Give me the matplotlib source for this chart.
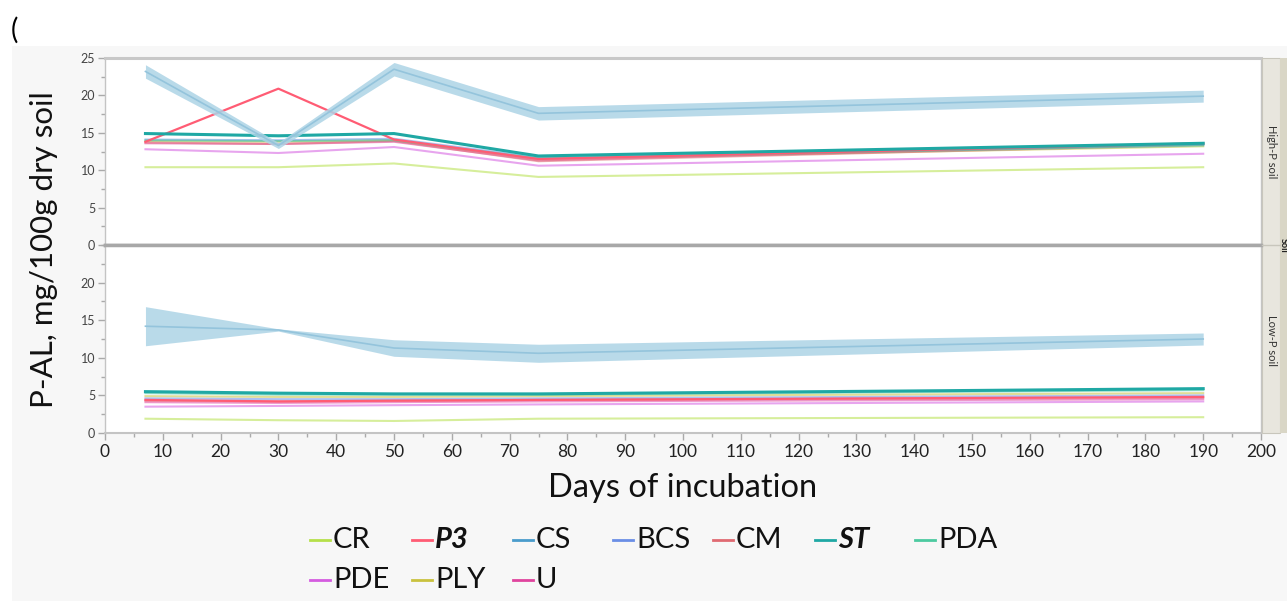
import matplotlib
matplotlib.use("Agg")
import matplotlib.pyplot as plt
from matplotlib.patches import Rectangle
from matplotlib.lines import Line2D
from matplotlib.ticker import MultipleLocator

plt.rcParams['font.family'] = ['Lato', 'DejaVu Sans']

days = [7, 30, 50, 75, 190]
series = ["CR", "P3", "CS", "BCS", "CM", "ST", "PDA", "PDE", "PLY", "U"]
colors = {"CR": "#b5e04a", "P3": "#ff5c74", "CS": "#4a9ccc", "BCS": "#6a8ee6",
          "CM": "#e06a72", "ST": "#1fa8a4", "PDA": "#4ccaa0", "PDE": "#d55ce0",
          "PLY": "#c9c23e", "U": "#e0449e"}

high = {
    "CR":  [10.4, 10.4, 10.9, 9.1, 10.4],
    "P3":  [13.8, 20.9, 14.1, 11.5, 13.6],
    "CS":  [23.2, 13.3, 23.5, 17.6, 19.9],
    "BCS": [14.1, 14.0, 14.2, 11.7, 13.4],
    "CM":  [13.7, 13.5, 13.9, 11.2, 13.4],
    "ST":  [14.9, 14.6, 14.9, 11.9, 13.6],
    "PDA": [14.0, 13.9, 14.0, 11.6, 13.3],
    "PDE": [12.8, 12.3, 13.1, 10.6, 12.2],
    "PLY": [13.9, 13.8, 14.0, 11.5, 13.2],
    "U":   [13.6, 13.5, 13.8, 11.3, 13.5],
}
high_cs_err = [0.9, 0.4, 0.9, 0.9, 0.8]

low = {
    "CR":  [1.9, 1.7, 1.6, 1.9, 2.1],
    "P3":  [4.4, 4.2, 4.3, 4.4, 4.8],
    "CS":  [14.2, 13.7, 11.3, 10.6, 12.5],
    "BCS": [4.6, 4.5, 4.5, 4.6, 5.0],
    "CM":  [4.3, 4.2, 4.3, 4.4, 4.7],
    "ST":  [5.5, 5.3, 5.2, 5.2, 5.9],
    "PDA": [5.3, 5.1, 5.1, 5.1, 5.7],
    "PDE": [3.5, 3.6, 3.7, 3.8, 4.2],
    "PLY": [4.9, 4.8, 4.8, 4.9, 5.3],
    "U":   [4.1, 4.0, 4.1, 4.2, 4.5],
}
low_cs_err = [2.6, 0.15, 1.1, 1.2, 0.8]

panel_labels = ["High-P soil", "Low-P soil"]
x_ticks = list(range(0, 201, 10))

W, H = 1287, 601
fig = plt.figure(figsize=(W / 100, H / 100), dpi=100)
fig.patch.set_facecolor("white")

def fx(px):
    return px / W

def fy(py):
    return 1 - py / H

# grey report background
fig.patches.append(Rectangle((fx(12), 0), 1 - fx(12), fy(46), transform=fig.transFigure,
                             facecolor="#f7f7f7", edgecolor="none", zorder=-10))
fig.text(fx(11), fy(30), "(", fontsize=20, va="center", ha="left", color="black")

left, right = 105, 1261
ax_top = fig.add_axes([fx(left), fy(245), fx(right - left), fy(58) - fy(245)])
ax_bot = fig.add_axes([fx(left), fy(433), fx(right - left), fy(245) - fy(433)])

order = ["CR", "PLY", "PDE", "U", "CM", "BCS", "PDA", "P3", "ST", "CS"]
lw = {"ST": 2.2, "P3": 1.6}

for ax, data, err in [(ax_top, high, high_cs_err), (ax_bot, low, low_cs_err)]:
    ax.set_facecolor("white")
    for i, name in enumerate(order):
        vals = data[name]
        if name == "CS":
            lo = [v - e for v, e in zip(vals, err)]
            hi = [v + e for v, e in zip(vals, err)]
            ax.fill_between(days, lo, hi, color="#add4e6", alpha=0.85, lw=0, zorder=5)
            ax.plot(days, vals, color="#94c4dc", lw=1.2, zorder=6)
        else:
            a = 1.0 if name in ("ST", "P3") else 0.55
            ax.plot(days, vals, color=colors[name], lw=lw.get(name, 1.5), alpha=a, zorder=3 + i * 0.1)
    ax.set_xlim(0, 200)
    ax.set_ylim(0, 25)
    ax.xaxis.set_major_locator(MultipleLocator(10))
    ax.xaxis.set_minor_locator(MultipleLocator(5))
    ax.yaxis.set_major_locator(MultipleLocator(5))
    ax.yaxis.set_minor_locator(MultipleLocator(2.5))
    ax.tick_params(axis="y", which="major", labelsize=9, colors="#aaaaaa", labelcolor="#444444",
                   length=5, width=1, pad=2)
    ax.tick_params(axis="y", which="minor", colors="#aaaaaa", length=3, width=1)
    for s in ax.spines.values():
        s.set_color("#c4c4c4")
        s.set_linewidth(1)

ax_top.set_yticks([0, 5, 10, 15, 20, 25])
ax_bot.set_yticks([0, 5, 10, 15, 20])
ax_top.tick_params(axis="x", which="both", bottom=False, labelbottom=False)
ax_top.spines["bottom"].set_visible(False)
ax_top.spines["top"].set_linewidth(2.2)
ax_top.spines["top"].set_color("#c8c8c8")
ax_bot.spines["top"].set_visible(False)
ax_bot.spines["bottom"].set_linewidth(1.5)
ax_bot.set_xticks(x_ticks)
ax_bot.tick_params(axis="x", which="major", labelsize=12.5, colors="#aaaaaa", labelcolor="#222222",
                   length=5, width=1, pad=3)
ax_bot.tick_params(axis="x", which="minor", colors="#aaaaaa", length=3, width=1)
ax_top.axhline(0, color="#a8a8a8", lw=2.5, zorder=20, clip_on=False)

# separator line across
fig.add_artist(Line2D([fx(left), fx(right)], [fy(245), fy(245)], transform=fig.transFigure,
                      color="#a8a8a8", lw=2.5))

# right strips
fig.patches.append(Rectangle((fx(1262), fy(433)), fx(1280 - 1262), fy(58) - fy(433),
                             transform=fig.transFigure, facecolor="#e8e6de",
                             edgecolor="#c8c6bc", lw=0.8, zorder=1))
fig.patches.append(Rectangle((fx(1280), fy(433)), fx(1287 - 1280), fy(58) - fy(433),
                             transform=fig.transFigure, facecolor="#d9d6c6",
                             edgecolor="none", zorder=1))
fig.add_artist(Line2D([fx(1262), fx(1280)], [fy(245), fy(245)], transform=fig.transFigure,
                      color="#c8c6bc", lw=1))
fig.text(fx(1271), fy(152), panel_labels[0], rotation=-90, fontsize=8, ha="center",
         va="center", color="#333333")
fig.text(fx(1271), fy(340), panel_labels[1], rotation=-90, fontsize=8, ha="center",
         va="center", color="#333333")
fig.text(fx(1283.5), fy(245), "Soil", rotation=-90, fontsize=6.5, fontweight="bold",
         ha="center", va="center", color="#222222")

# axis labels
fig.text(fx(44), fy(250), "P-AL, mg/100g dry soil", rotation=90, fontsize=22.5,
         ha="center", va="center", color="#111111")
fig.text(fx(683), fy(488), "Days of incubation", fontsize=23.5, ha="center", va="center",
         color="#111111")

# legend
leg_pos = {"CR": (310, 540), "P3": (412, 540), "CS": (513, 540), "BCS": (613, 540),
           "CM": (713, 540), "ST": (815, 540), "PDA": (915, 540),
           "PDE": (310, 580), "PLY": (412, 580), "U": (513, 580)}
for name in series:
    x0, y0 = leg_pos[name]
    fig.add_artist(Line2D([fx(x0), fx(x0 + 20)], [fy(y0), fy(y0)], transform=fig.transFigure,
                          color=colors[name], lw=2))
    bold = name in ("P3", "ST")
    fig.text(fx(x0 + 23), fy(y0), name, fontsize=21, ha="left", va="center",
             color="#111111", fontweight="bold" if bold else "normal",
             fontstyle="italic" if bold else "normal")

fig.savefig("out.png", dpi=100)
